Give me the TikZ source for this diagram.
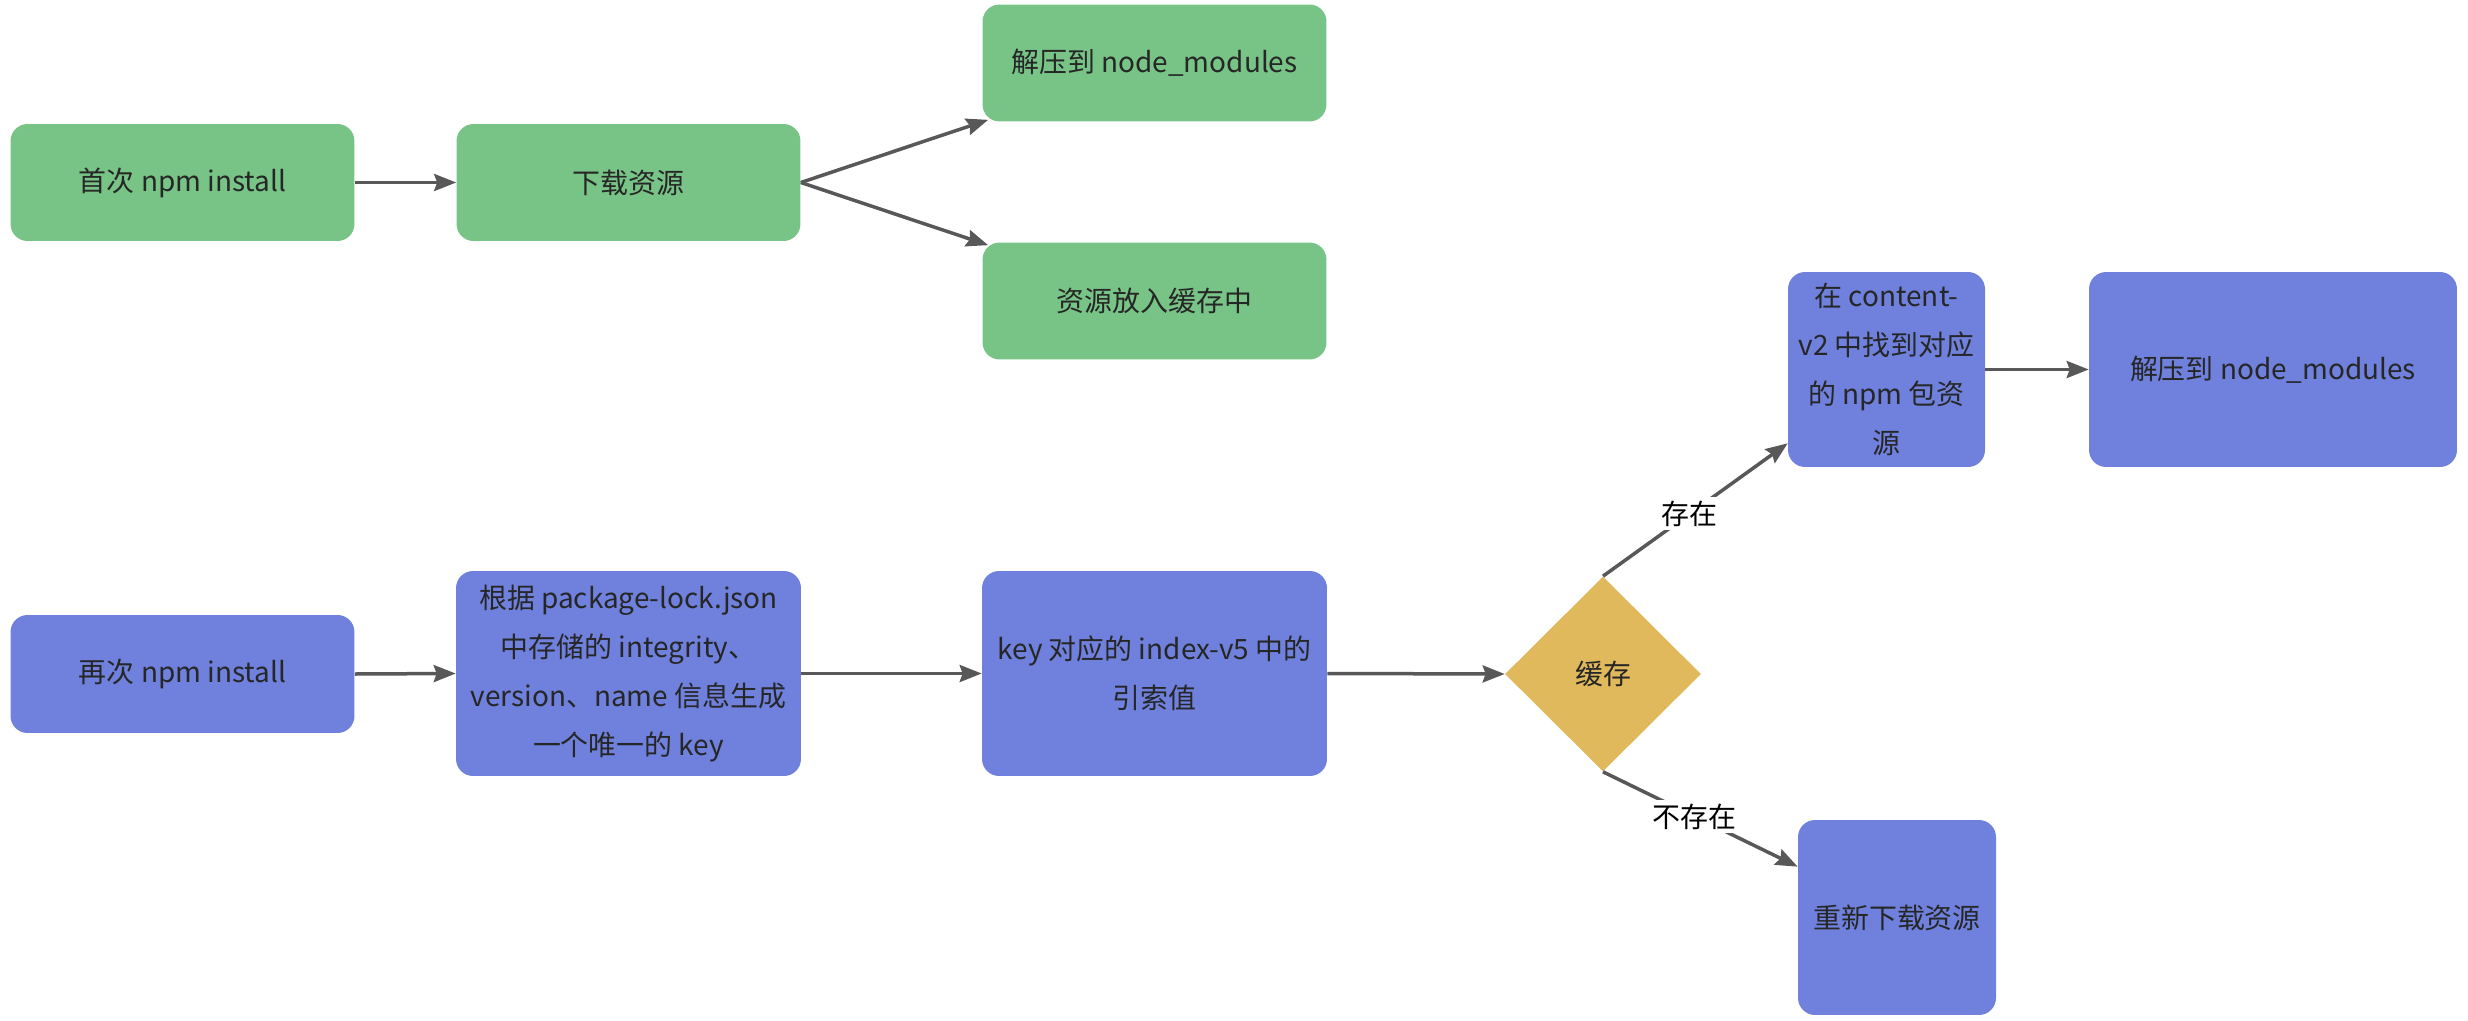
\documentclass[tikz,border=0pt]{standalone}
\usepackage{fontspec}
\setmainfont{Noto Sans CJK SC}
\usetikzlibrary{arrows.meta,shapes.geometric}

\definecolor{npmgreen}{RGB}{120,196,135}
\definecolor{npmblue}{RGB}{111,129,220}
\definecolor{cachegold}{RGB}{223,185,92}
\definecolor{arrowgray}{RGB}{88,88,88}
\definecolor{txtgray}{RGB}{38,38,38}

\begin{document}
\begin{tikzpicture}[x=0.02cm,y=-0.02cm,
		font=\fontsize{15.9pt}{27.9pt}\selectfont,
		box/.style={rounded corners=0.34cm,text=txtgray,align=center,inner sep=0pt},
		greenbox/.style={box,fill=npmgreen,minimum width=6.88cm,minimum height=2.34cm},
		bluebox/.style={box,fill=npmblue},
		flow/.style={draw=arrowgray,line width=0.07cm,-{Stealth[length=0.44cm,width=0.34cm,inset=0.06cm]}},
		tag/.style={fill=white,inner sep=2pt,text=black}]
	\useasboundingbox (0,0) rectangle (2468,1021);
	
	% first install
	\node[greenbox] (first) at (182.5,182.5) {首次 npm install};
	\node[greenbox] (download) at (628.5,182.5) {下载资源};
	\node[greenbox] (unzipA) at (1154.5,63) {解压到 node\_modules};
	\node[greenbox] (cacheput) at (1154.5,301) {资源放入缓存中};
	
	\draw[flow] (first.east) -- (download.west);
	\draw[flow] (download.east) -- ([xshift=0.12cm,yshift=0.04cm]unzipA.south west);
	\draw[flow] (download.east) -- ([xshift=0.12cm,yshift=-0.06cm]cacheput.north west);
	
	% second install
	\node[bluebox,minimum width=6.88cm,minimum height=2.36cm] (again) at (182.5,674) {再次 npm install};
	\node[bluebox,minimum width=6.9cm,minimum height=4.1cm] (makekey) at (628.5,673.5)
		{根据 package-lock.json\\中存储的 integrity、\\version、name 信息生成\\一个唯一的 key};
	\node[bluebox,minimum width=6.9cm,minimum height=4.1cm] (index) at (1154.5,673.5)
		{key 对应的 index-v5 中的\\引索值};
	\node[diamond,fill=cachegold,text=txtgray,inner sep=0pt,minimum width=3.92cm,minimum height=3.9cm] (cache) at (1603,674) {缓存};
	\node[bluebox,minimum width=3.94cm,minimum height=3.9cm] (content) at (1886.5,369.5)
		{在 content-\\v2 中找到对应\\的 npm 包资\\源};
	\node[bluebox,minimum width=7.36cm,minimum height=3.9cm] (unzipB) at (2273,369.5) {解压到 node\_modules};
	\node[bluebox,minimum width=3.96cm,minimum height=3.9cm] (redownload) at (1897,917.5) {重新下载资源};
	
	\draw[flow] (again.east) -- (makekey.west);
	\draw[flow] (makekey.east) -- (index.west);
	\draw[flow] (index.east) -- (cache.west);
	\draw[flow] (cache.north) -- node[tag,pos=0.47]{存在} ([yshift=0.48cm]content.south west);
	\draw[flow] (cache.south) -- node[tag,pos=0.47]{不存在} ([yshift=-0.94cm]redownload.north west);
	\draw[flow] (content.east) -- (unzipB.west);
\end{tikzpicture}
\end{document}
